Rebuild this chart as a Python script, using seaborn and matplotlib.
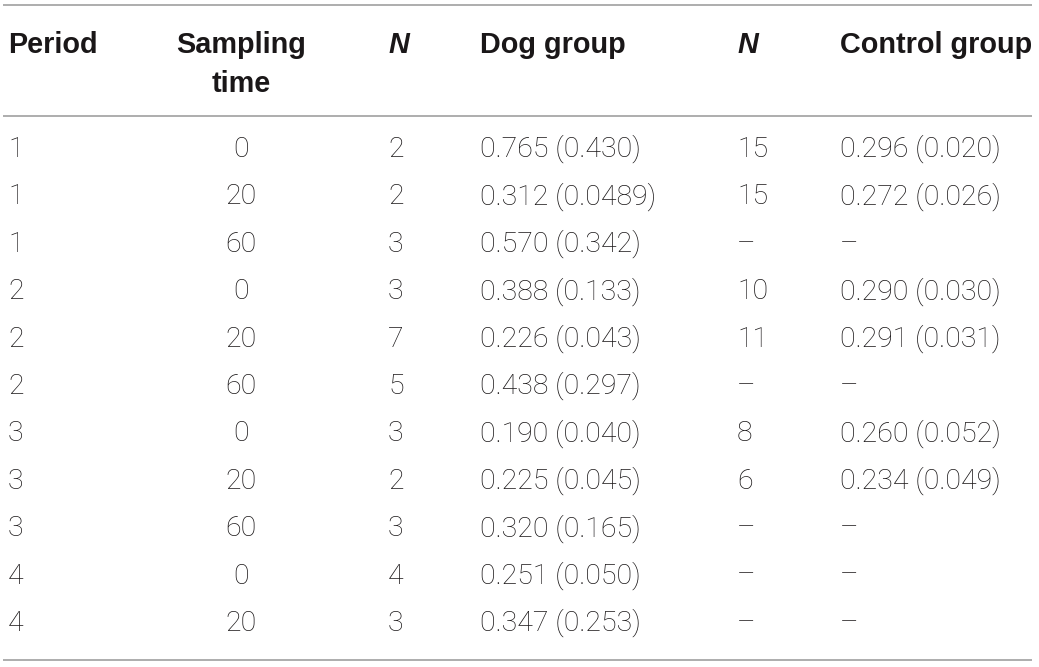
import matplotlib
matplotlib.use("Agg")
import matplotlib.pyplot as plt
import seaborn as sns

# table contents
headers = ["Period", "Sampling\ntime", "N", "Dog group", "N", "Control group"]
period = ["1", "1", "1", "2", "2", "2", "3", "3", "3", "4", "4"]
sampling_time = ["0", "20", "60", "0", "20", "60", "0", "20", "60", "0", "20"]
n_dog = ["2", "2", "3", "3", "7", "5", "3", "2", "3", "4", "3"]
dog_group = ["0.765 (0.430)", "0.312 (0.0489)", "0.570 (0.342)", "0.388 (0.133)",
             "0.226 (0.043)", "0.438 (0.297)", "0.190 (0.040)", "0.225 (0.045)",
             "0.320 (0.165)", "0.251 (0.050)", "0.347 (0.253)"]
n_control = ["15", "15", "\u2013", "10", "11", "\u2013", "8", "6", "\u2013", "\u2013", "\u2013"]
control_group = ["0.296 (0.020)", "0.272 (0.026)", "\u2013", "0.290 (0.030)",
                 "0.291 (0.031)", "\u2013", "0.260 (0.052)", "0.234 (0.049)",
                 "\u2013", "\u2013", "\u2013"]

sns.set_style("white")
plt.rcParams['font.family'] = ['Roboto', 'DejaVu Sans']

fig = plt.figure(figsize=(10.39, 6.67), dpi=100)
ax = fig.add_axes([0, 0, 1, 1])
ax.set_xlim(0, 1039)
ax.set_ylim(667, 0)
ax.axis("off")

# column layout: (x, alignment)
cols = [(8, "left"), (241, "center"), (388, "left"), (480, "left"), (737, "left"), (840, "left")]
text_color = "#1a1718"
line_color = "#9f9f9f"

# rules
for y in [5, 116, 660]:
    ax.plot([3, 1032], [y, y], color=line_color, lw=1.2, solid_capstyle="butt")

# header, one text per line so the baselines can be placed
for (x, ha), h in zip(cols, headers):
    style = "italic" if h == "N" else "normal"
    for k, part in enumerate(h.split("\n")):
        ax.text(x, 53 + k * 39, part, ha=ha, va="baseline", fontsize=20.8,
                fontweight="bold", fontstyle=style, color=text_color,
                family=["Liberation Sans", "DejaVu Sans"])

# body rows
columns = [period, sampling_time, n_dog, dog_group, n_control, control_group]
row_y0 = 157
row_h = 47.4
for i in range(len(period)):
    y = row_y0 + i * row_h
    for (x, ha), col in zip(cols, columns):
        ax.text(x, y, col[i], ha=ha, va="baseline", fontsize=20.5,
                fontweight="light", color=text_color)

fig.savefig("out.png", dpi=100)
